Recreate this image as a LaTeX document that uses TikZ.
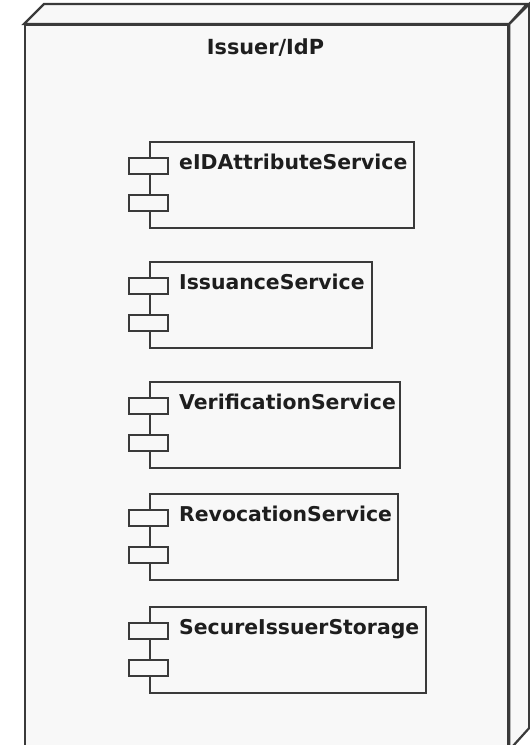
\documentclass[tikz,border=0pt]{standalone}
\usepackage{fontspec}
\setmainfont{DejaVu Sans}
\definecolor{edge}{HTML}{3A3A3A}
\definecolor{face}{HTML}{F8F8F8}
\definecolor{ink}{HTML}{1E1E1E}
\begin{document}
\begin{tikzpicture}[x=1pt,y=-1pt,
  nodebox/.style={draw=edge, fill=face, line width=2.2pt, inner sep=0pt, anchor=north west},
  facepoly/.style={draw=edge, fill=face, line width=2.2pt, line join=miter},
  comp/.style={draw=edge, fill=face, line width=1.8pt, inner sep=0pt, anchor=north west, minimum height=86pt},
  port/.style={draw=edge, fill=face, line width=1.8pt, inner sep=0pt, anchor=north west, minimum width=39pt, minimum height=16pt},
  lbl/.style={text=ink, font=\fontsize{20.4}{24}\selectfont\bfseries, inner sep=0pt, anchor=base west},
  ttl/.style={text=ink, font=\fontsize{20.8}{24}\selectfont\bfseries, inner sep=0pt, anchor=base}]
\useasboundingbox (0,0) rectangle (530,745);
\fill[white] (0,0) rectangle (530,745);
% 3D node
\node[nodebox, minimum width=483pt, minimum height=724pt] (idp) at (24,24) {};
\draw[facepoly] (idp.north west) -- ++(20,-20) -- ++(483,0) -- (idp.north east) -- cycle;
\draw[facepoly] (idp.north east) -- ++(20,-20) -- ++(0,724) -- (idp.south east) -- cycle;
\node[ttl] (title) at (265.5,54) {Issuer/IdP};
% components
\foreach \n/\t/\r/\txt in {c1/141/413/eIDAttributeService,
                           c2/261/371/IssuanceService,
                           c3/381/399/VerificationService,
                           c4/493/397/RevocationService,
                           c5/606/425/SecureIssuerStorage}{
  \node[comp, minimum width={(\r-149)*1pt}] (\n) at (149,\t) {};
  \node[port] (\n a) at (128,\t+16) {};
  \node[port] (\n b) at (128,\t+53) {};
  \node[lbl] (\n t) at (179,\t+28) {\txt};
}
\end{tikzpicture}
\end{document}
